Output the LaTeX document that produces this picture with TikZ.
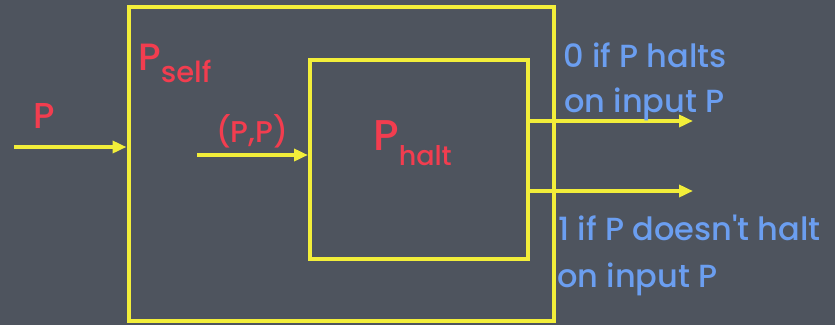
\documentclass[tikz,border=0pt]{standalone}
\usepackage{fontspec}
\setmainfont{Poppins}[Ligatures=TeXOff, UprightFont=* Medium]
\usetikzlibrary{arrows.meta}
\definecolor{board}{RGB}{78,84,94}
\definecolor{chalkyellow}{RGB}{242,238,58}
\definecolor{chalkred}{RGB}{242,61,79}
\definecolor{chalkblue}{RGB}{107,158,240}

\begin{document}
\begin{tikzpicture}[x=1pt, y=-1pt,
    box/.style={draw=chalkyellow, line width=4pt, inner sep=0pt},
    arr/.style={chalkyellow, line width=4pt, -{Triangle[length=14pt,width=12pt]}},
    redlbl/.style={text=chalkred, inner sep=0pt, anchor=base west},
    bluelbl/.style={text=chalkblue, inner sep=0pt, anchor=base west, font=\fontsize{32}{32}\selectfont}]
    \fill [board] (0,0) rectangle (835,325);
    \useasboundingbox (0,0) rectangle (835,325);

    % the two machines
    \node [box, minimum width=425.5pt, minimum height=314pt] (pself) at (341.25,164) {};
    \node [box, minimum width=218pt, minimum height=199pt] (phalt) at (419,159.5) {};

    \node [redlbl] (selflbl) at (138,70) {\fontsize{38}{38}\selectfont P\raisebox{-12pt}{\fontsize{29}{29}\selectfont self}};
    \node [redlbl] (haltlbl) at (373,150) {\fontsize{43}{43}\selectfont P\raisebox{-15pt}{\fontsize{27}{27}\selectfont halt}};

    % inputs
    \node [redlbl, font=\fontsize{36}{36}\selectfont] (plbl) at (33,128) {P};
    \node [redlbl, font=\fontsize{30}{30}\selectfont] (pplbl) at (216,142) {(P,P)};

    \coordinate (pin) at (14,147);
    \coordinate (ppin) at (197,155);
    \draw [arr] (pin) -- (pin -| pself.west);
    \draw [arr] (ppin) -- (ppin -| phalt.west);

    % outputs
    \coordinate (out0) at (693,121);
    \coordinate (out1) at (693,191);
    \draw [arr] (out0 -| phalt.east) -- (out0);
    \draw [arr] (out1 -| phalt.east) -- (out1);

    \node [bluelbl] (halts1) at (563,67) {0 if P halts};
    \node [bluelbl] (halts2) at (564,112) {on input P};
    \node [bluelbl] (loops1) at (558,240) {1 if P doesn't halt};
    \node [bluelbl] (loops2) at (557,287) {on input P};
\end{tikzpicture}
\end{document}
